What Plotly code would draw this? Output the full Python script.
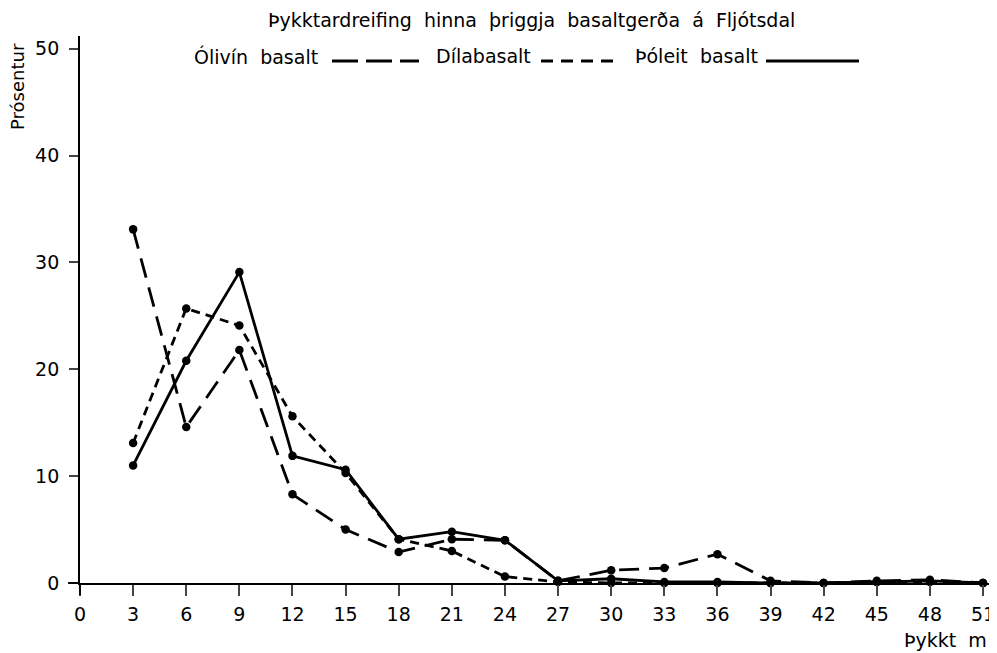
import plotly.graph_objects as go

thickness = [3, 6, 9, 12, 15, 18, 21, 24, 27, 30, 33, 36, 39, 42, 45, 48, 51]
x_ticks = list(range(0, 52, 3))
y_ticks = [0, 10, 20, 30, 40, 50]

olivin = [33.1, 14.6, 21.8, 8.3, 5.0, 2.9, 4.1, 4.0, 0.2, 1.2, 1.4, 2.7, 0.2, 0.0, 0.2, 0.3, 0.0]
dila = [13.1, 25.7, 24.1, 15.6, 10.3, 4.1, 3.0, 0.6, 0.1, 0.0, 0.0, 0.0, 0.0, 0.0, 0.1, 0.1, 0.0]
tholeiit = [11.0, 20.8, 29.1, 11.9, 10.6, 4.1, 4.8, 4.0, 0.2, 0.4, 0.1, 0.1, 0.0, 0.0, 0.1, 0.2, 0.0]

names = ["Ólivín basalt", "Dílabasalt", "Þóleit basalt"]
series = [olivin, dila, tholeiit]
dashes = ["20px,10px", "9px,6px", "solid"]
legend_dashes = ["26px,8px", "12px,8px", "solid"]

FONT = "DejaVu Sans"
fig = go.Figure()
for name, vals, d in zip(names, series, dashes):
    fig.add_trace(go.Scatter(
        x=thickness, y=vals, name=name, mode="lines+markers",
        line=dict(color="black", width=2.8, dash=d),
        marker=dict(color="black", size=8.5),
        cliponaxis=False,
    ))

# plot area: screen x 80..997, y 36..583 (page has an 8px body margin)
PL, PT, PW, PH = 80, 36, 917, 547


def px(sx):
    return (sx - PL) / PW


def py(sy):
    return (PT + PH - sy) / PH


fig.update_layout(
    width=989, height=645,
    margin=dict(l=72, r=0, t=28, b=70),
    paper_bgcolor="white", plot_bgcolor="white",
    showlegend=False,
    font=dict(family=FONT, color="black", size=18),
    xaxis=dict(range=[0, 51.79], tickvals=x_ticks, ticks="outside", ticklen=11,
               tickwidth=1.8, showline=True, linecolor="black", linewidth=1.8,
               showgrid=False, zeroline=False, tickfont=dict(size=19),
               ticklabelstandoff=2),
    yaxis=dict(range=[0, 51.2], tickvals=y_ticks, ticks="outside", ticklen=9,
               tickwidth=1.8, showline=True, linecolor="black", linewidth=1.8,
               showgrid=False, zeroline=False, tickfont=dict(size=19),
               ticklabelstandoff=6),
)

# small axis overhangs at the origin
fig.add_shape(type="line", xref="paper", yref="paper", x0=px(68), x1=0, y0=0, y1=0,
              line=dict(color="black", width=1.8))
fig.add_shape(type="line", xref="paper", yref="paper", x0=0, x1=0, y0=py(595), y1=0,
              line=dict(color="black", width=1.8))

fig.add_annotation(text="Þykktardreifing\u00a0 hinna\u00a0 þriggja\u00a0 basaltgerða\u00a0 á\u00a0 Fljótsdal",
                   xref="paper", yref="paper", x=px(531), y=py(20),
                   showarrow=False, font=dict(size=19), xanchor="center", yanchor="middle")
# legend row
leg_text_y = py(56)
leg_line_y = py(61)
for label, right in zip(names, [320, 533, 760]):
    fig.add_annotation(text=label.replace(" ", "\u00a0 "), xref="paper", yref="paper",
                       x=px(right), y=leg_text_y, showarrow=False,
                       xanchor="right", yanchor="middle", font=dict(size=19))
for (x0, x1), d in zip([(332, 419), (541, 621), (766, 859)], legend_dashes):
    fig.add_shape(type="line", xref="paper", yref="paper",
                  x0=px(x0), x1=px(x1), y0=leg_line_y, y1=leg_line_y,
                  line=dict(color="black", width=2.8, dash=d))

fig.add_annotation(text="Prósentur", xref="paper", yref="paper", x=px(17), y=py(87),
                   textangle=-90, showarrow=False, xanchor="center", yanchor="middle",
                   font=dict(size=18))
fig.add_annotation(text="Þykkt\u00a0 m", xref="paper", yref="paper", x=px(989), y=py(640),
                   showarrow=False, xanchor="right", yanchor="middle",
                   font=dict(size=19))

fig.write_html("out.html")
